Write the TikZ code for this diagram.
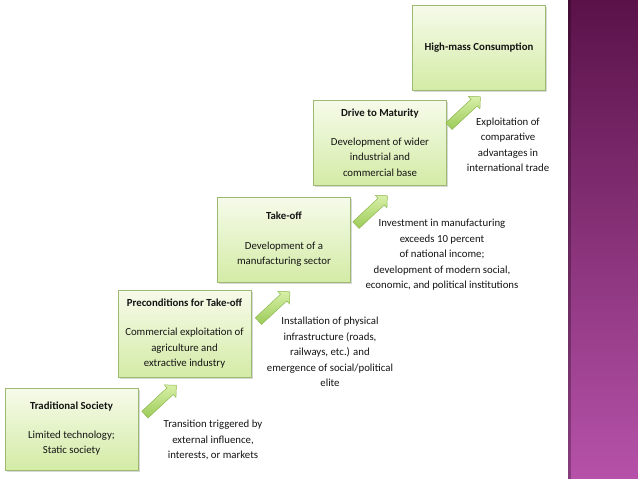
\documentclass[tikz,border=0pt]{standalone}
\usepackage{fontspec}
\setmainfont{Carlito}
\usetikzlibrary{shapes.arrows,shadows}
\definecolor{boxtop}{HTML}{F6FBEA}
\definecolor{boxbot}{HTML}{D4EBA6}
\definecolor{boxline}{HTML}{9DBA72}
\definecolor{arrlight}{HTML}{D8F0A8}
\definecolor{arrdark}{HTML}{9CCB58}
\definecolor{arrline}{HTML}{8DB850}
\definecolor{purtop}{HTML}{5A1249}
\definecolor{purbot}{HTML}{B652A9}
\definecolor{txt}{HTML}{141414}
\begin{document}
\begin{tikzpicture}[x=1pt,y=-1pt,
  stagebox/.style={draw=boxline, line width=0.7pt, top color=boxtop, bottom color=boxbot,
    minimum width=133pt, align=center, inner sep=0pt, text=txt,
    drop shadow={opacity=0.3, shadow xshift=1.5pt, shadow yshift=-1.5pt},
    font=\fontsize{10.8}{15.5}\selectfont},
  garrow/.style={single arrow, draw=arrline, line width=0.5pt, top color=arrlight, bottom color=arrdark,
    minimum height=43pt, single arrow head extend=4pt, inner sep=4.3pt, rotate=43},
  note/.style={align=center, text=txt, inner sep=0pt, font=\fontsize{10.8}{15.5}\selectfont}
]
\useasboundingbox (0,0) rectangle (638,479);
\fill[white] (0,0) rectangle (638,479);
% purple band
\shade[top color=purtop, bottom color=purbot] (568,0) rectangle (638,479);
\fill[black, opacity=0.25] (568,0) rectangle (571,479);

% boxes
\node[stagebox, minimum height=82pt] (s1) at (71.5,429) {\textbf{Traditional Society}\\[13pt]Limited technology;\\Static society};
\node[stagebox, minimum height=87pt] (s2) at (184.5,333.5) {\textbf{Preconditions for Take-off}\\[14pt]Commercial exploitation of\\agriculture and\\extractive industry};
\node[stagebox, minimum height=85pt] (s3) at (284,239.5) {\textbf{Take-off}\\[14pt]Development of a\\manufacturing sector};
\node[stagebox, minimum height=85pt] (s4) at (380,142.5) {\textbf{Drive to Maturity}\\[13pt]Development of wider\\industrial and\\commercial base};
\node[stagebox, minimum height=85pt] (s5) at (479,47.5) {\textbf{High-mass Consumption}};

% arrows
\node[garrow] (a1) at (159,401.5) {};
\node[garrow] (a2) at (272.5,308) {};
\node[garrow] (a3) at (370,212) {};
\node[garrow] (a4) at (463,113) {};

% notes
\node[note] (n1) at (213,440) {Transition triggered by\\external influence,\\interests, or markets};
\node[note] (n2) at (330,352) {Installation of physical\\infrastructure (roads,\\railways, etc.) and\\emergence of social/political\\elite};
\node[note] (n3) at (442,255) {Investment in manufacturing\\exceeds 10 percent\\of national income;\\development of modern social,\\economic, and political institutions};
\node[note] (n4) at (508,145) {Exploitation of\\comparative\\advantages in\\international trade};
\end{tikzpicture}
\end{document}
